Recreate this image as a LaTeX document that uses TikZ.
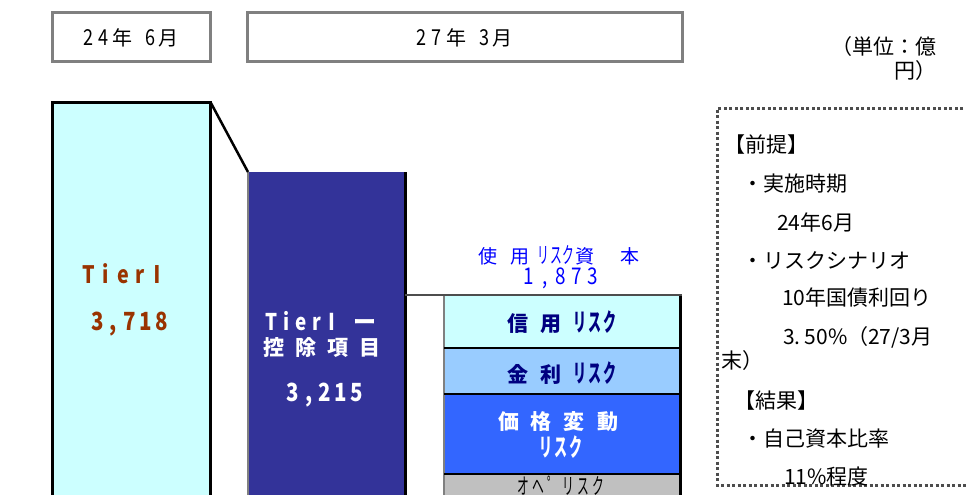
\documentclass[tikz,border=0pt]{standalone}
\usepackage{fontspec}
\setmainfont{Noto Sans CJK JP}
\definecolor{lcyan}{HTML}{CCFFFF}
\definecolor{navyb}{HTML}{333399}
\definecolor{lblue}{HTML}{99CCFF}
\definecolor{mblue}{HTML}{3366FF}
\definecolor{lgray}{HTML}{C0C0C0}
\definecolor{brownt}{HTML}{993300}
\definecolor{frameg}{HTML}{808080}
\definecolor{dotg}{HTML}{4D4D4D}
\definecolor{darknavy}{HTML}{000080}
\newcommand{\cb}[2][16]{\makebox[#1pt]{#2}}
\newcommand{\ls}[1]{\hspace{#1pt}}
\newcommand{\dg}[1]{\scalebox{0.82}[1]{#1}}
\newcommand{\hk}[1]{\scalebox{0.62}[1.18]{#1}}
\tikzset{
  datebox/.style={draw=frameg, line width=3pt, fill=white, inner sep=0pt, font=\fontsize{22}{22}\selectfont},
  barfill/.style={inner sep=0pt, anchor=north west},
  thickb/.style={line width=3pt, draw=black},
  sepline/.style={line width=2pt, draw=black},
  barlabel/.style={inner sep=0pt, font=\fontsize{21}{21}\selectfont\bfseries},
  numlabel/.style={inner sep=0pt, font=\fontsize{25}{25}\selectfont\bfseries},
  notetext/.style={inner sep=0pt, anchor=west, font=\fontsize{21}{21}\selectfont},
}
\begin{document}
\begin{tikzpicture}[x=1pt,y=-1pt]
\useasboundingbox (0,0) rectangle (966,495);
\clip (0,0) rectangle (966,495);
% date boxes
\node[datebox, minimum width=158pt, minimum height=49pt] (d1) at (131,37.5) {\dg{2}\ls{5}\dg{4}\ls{4}{\fontsize{20}{20}\selectfont 年}\ls{13}\dg{6}\ls{3}{\fontsize{20}{20}\selectfont 月}};
\node[datebox, minimum width=435pt, minimum height=49pt] (d2) at (464.5,37.5) {\dg{2}\ls{5}\dg{7}\ls{4}{\fontsize{20}{20}\selectfont 年}\ls{13}\dg{3}\ls{3}{\fontsize{20}{20}\selectfont 月}};
\node[inner sep=0pt, anchor=east, font=\fontsize{21}{21}\selectfont] (u1) at (937,47) {（単位：億};
\node[inner sep=0pt, anchor=east, font=\fontsize{21}{21}\selectfont] (u2) at (937,71) {円）};
% Tier I bar
\node[barfill, fill=lcyan, minimum width=158pt, minimum height=400pt] (tier) at (52,102) {};
\draw[thickb] (tier.south west) -- (tier.north west) -- (tier.north east) -- (tier.south east);
\node[numlabel, text=brownt, font=\fontsize{24}{24}\selectfont\bfseries] (tl1) at (123,274) {\cb[17]{\dg{T}}\cb[17]{\dg{i}}\cb[17]{\dg{e}}\cb[17]{\dg{r}}\cb[17]{\dg{Ⅰ}}};
\node[numlabel, text=brownt] (tl2) at (129.5,324) {\cb{\dg{3}}\cb{\dg{,}}\cb{\dg{7}}\cb{\dg{1}}\cb{\dg{8}}};
% Tier I - deductions bar
\node[barfill, fill=navyb, minimum width=157pt, minimum height=330pt] (blue) at (248,172) {};
\draw[line width=2pt, draw=frameg] (blue.south west) -- (blue.north west);
\draw[thickb] (blue.north east) -- (blue.south east);
\draw[line width=2.5pt] (tier.north east) -- (blue.north west);
\node[numlabel, text=white, font=\fontsize{23}{23}\selectfont\bfseries] (bl1) at (320,321) {\cb[15]{\dg{T}}\cb[15]{\dg{i}}\cb[15]{\dg{e}}\cb[15]{\dg{r}}\cb[15]{\dg{Ⅰ}}\cb[15]{}\cb[22]{ー}};
\node[barlabel, text=white] (bl2) at (322,348) {\cb[32]{控}\cb[32]{除}\cb[32]{項}\cb[32]{目}};
\node[numlabel, text=white] (bl3) at (325,395) {\cb{\dg{3}}\cb{\dg{,}}\cb{\dg{2}}\cb{\dg{1}}\cb{\dg{5}}};
% risk capital stack
\coordinate (hr) at (682,295);
\draw[line width=1.5pt, draw=dotg] (blue.east |- hr) -- (hr);
\node[barfill, fill=lcyan, minimum width=236pt, minimum height=52pt] (s1) at (444,296) {};
\node[barfill, fill=lblue, minimum width=236pt, minimum height=46pt] (s2) at (444,348) {};
\node[barfill, fill=mblue, minimum width=236pt, minimum height=80pt] (s3) at (444,394) {};
\node[barfill, fill=lgray, minimum width=236pt, minimum height=30pt] (s4) at (444,474) {};
\draw[line width=2pt, draw=frameg] (s1.north west) -- (s4.south west);
\draw[thickb] (s1.north east) -- (s4.south east);
\draw[sepline] (s1.south west) -- (s1.south east);
\draw[sepline] (s2.south west) -- (s2.south east);
\draw[sepline] (s3.south west) -- (s3.south east);
\node[inner sep=0pt, text=blue, font=\fontsize{19}{19}\selectfont] (rc1) at (559,255) {使\ls{13}用\ls{8}\hk{リ}\ls{1}\hk{ス}\ls{1}\hk{ク}\ls{1}資\ls{26}本};
\node[inner sep=0pt, text=blue, font=\fontsize{23}{23}\selectfont] (rc2) at (561,278) {\cb{\dg{1}}\cb{\dg{,}}\cb{\dg{8}}\cb{\dg{7}}\cb{\dg{3}}};
\node[barlabel, text=darknavy] (s1a) at (s1.center) {信\ls{12}用\ls{12}\hk{リ}\ls{2}\hk{ス}\ls{2}\hk{ク}};
\node[barlabel, text=darknavy] (s2a) at ([yshift=-2pt]s2.center) {金\ls{12}利\ls{12}\hk{リ}\ls{2}\hk{ス}\ls{2}\hk{ク}};
\node[barlabel, text=white] (s3a) at (558,422) {価\ls{12}格\ls{12}変\ls{12}動};
\node[barlabel, text=white] (s3b) at (561,447) {\hk{リ}\ls{2}\hk{ス}\ls{2}\hk{ク}};
\node[inner sep=0pt, font=\fontsize{19}{19}\selectfont] (s4a) at (561,486) {\cb[15]{\hk{オ}}\cb[15]{\hk{ヘ}}\cb[15]{\hk{゜}}\cb[15]{\hk{リ}}\cb[15]{\hk{ス}}\cb[15]{\hk{ク}}};
% assumption box
\draw[draw=dotg, line width=3pt, dash pattern=on 3pt off 2.5pt] (985,108) -- (717,108) -- (717,485) -- (985,485);
\node[notetext] (n1) at (724,145) {【前提】};
\node[notetext] (n2) at (742,184) {・実施時期};
\node[notetext] (n3) at (777,222) {24年6月};
\node[notetext] (n4) at (742,260) {・リスクシナリオ};
\node[notetext] (n5) at (782,298) {10年国債利回り};
\node[notetext] (n6) at (783,337) {3.\ls{4}50\%（27/3月};
\node[notetext] (n7) at (721,361) {末）};
\node[notetext] (n8) at (734,401) {【結果】};
\node[notetext] (n9) at (742,439) {・自己資本比率};
\node[notetext] (n10) at (784,477) {11\%程度};
\end{tikzpicture}
\end{document}
